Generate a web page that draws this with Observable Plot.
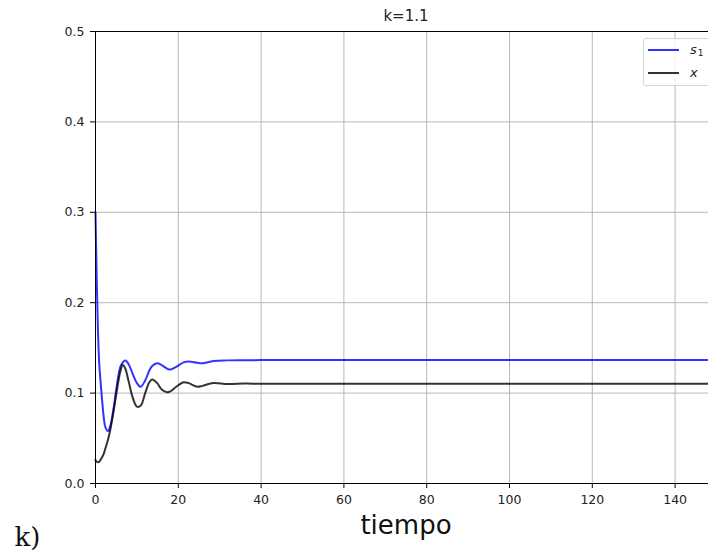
<!DOCTYPE html>
<html>
<head>
<meta charset="utf-8">
<script src="https://cdn.jsdelivr.net/npm/d3@7"></script>
<script src="https://cdn.jsdelivr.net/npm/@observablehq/plot@0.6"></script>
<style>
  html, body { margin: 0; padding: 0; background: #fff; overflow: hidden; }
  #wrap { position: relative; width: 708px; height: 557px; overflow: hidden; }
  #wrap svg { max-width: none; }
  .legend {
    position: absolute; left: 643px; top: 38px; width: 80px; height: 46px;
    border: 1px solid #d4d4d4; border-radius: 3px; background: rgba(255,255,255,0.8);
    font-family: "DejaVu Sans", sans-serif; font-size: 13px; color: #222;
  }
  .legend .sw { position: absolute; left: 4px; width: 31px; height: 2px; opacity: 0.8; }
  .legend .lab { position: absolute; left: 46px; font-style: italic; line-height: 1; }
  .legend sub { font-style: normal; font-size: 9px; vertical-align: -2px; margin-left: 1px; }
</style>
</head>
<body>
<div id="wrap"></div>
<script>
// Simulated time (horizontal axis)
const tiempo = [0, 0.3, 0.6, 0.9, 1.2, 1.6, 2.0, 2.4, 3.0, 3.6, 4.4, 5.2, 6.0, 6.6, 7.2, 8.0, 9.0, 10.0, 10.9,
  12, 13, 13.7, 14.9, 16, 17.3, 18.1, 19.5, 21.3, 22.5, 24.6, 25.8, 28.5, 31.8, 36, 40, 50, 150];
// Substrate s1
const s1 = [0.300, 0.225, 0.168, 0.133, 0.114, 0.092, 0.073, 0.062, 0.058, 0.064, 0.084, 0.110, 0.129, 0.134, 0.136,
  0.132, 0.121, 0.111, 0.107, 0.114, 0.125, 0.130, 0.133, 0.131, 0.127, 0.126, 0.129, 0.134, 0.135, 0.1335, 0.133,
  0.1355, 0.1362, 0.1364, 0.1365, 0.1365, 0.1365];
// Biomass x
const xBio = [0.026, 0.024, 0.0235, 0.024, 0.026, 0.029, 0.033, 0.039, 0.048, 0.060, 0.081, 0.104, 0.124, 0.131, 0.127,
  0.113, 0.095, 0.085, 0.086, 0.100, 0.112, 0.115, 0.111, 0.104, 0.101, 0.102, 0.107, 0.112, 0.111, 0.107, 0.108,
  0.1112, 0.1100, 0.1105, 0.1104, 0.1104, 0.1104];

const xTicks = [0, 20, 40, 60, 80, 100, 120, 140];
const yTicks = [0.0, 0.1, 0.2, 0.3, 0.4, 0.5];
const seriesNames = ["s1", "x"];
const seriesColors = ["#0000ff", "#000000"];
const titulo = "k=1.1";
const etiquetaX = "tiempo";
const panel = "k)";

const rows = tiempo.flatMap((t, i) => [
  {t, v: s1[i], serie: "s1"},
  {t, v: xBio[i], serie: "x"}
]);

const chart = Plot.plot({
  width: 716,
  height: 557,
  marginLeft: 95,
  marginRight: 0,
  marginTop: 31,
  marginBottom: 74,
  style: {fontFamily: "DejaVu Sans, sans-serif", fontSize: "12.5px", color: "#222", background: "#fff"},
  x: {domain: [0, 150]},
  y: {domain: [0, 0.5]},
  color: {domain: seriesNames, range: seriesColors},
  marks: [
    Plot.gridX(xTicks, {stroke: "#b0b0b0", strokeOpacity: 1, strokeWidth: 0.9}),
    Plot.gridY(yTicks, {stroke: "#b0b0b0", strokeOpacity: 1, strokeWidth: 0.9}),
    Plot.line(rows, {x: "t", y: "v", z: "serie", stroke: "serie", strokeWidth: 2, strokeOpacity: 0.8, curve: "catmull-rom"}),
    Plot.frame({stroke: "#000", strokeWidth: 1}),
    Plot.axisX(xTicks, {tickSize: 5, tickPadding: 7, label: null, stroke: "#000", fontSize: 12.5}),
    Plot.axisY(yTicks, {tickSize: 5, tickPadding: 6, label: null, tickFormat: d3.format(".1f"), stroke: "#000", fontSize: 12.5}),
    Plot.text([titulo], {frameAnchor: "top", lineAnchor: "middle", dy: -15, fontSize: 15, fill: "#222"}),
    Plot.text([etiquetaX], {frameAnchor: "bottom", lineAnchor: "middle", dy: 42, fontSize: 26, fill: "#111"}),
    Plot.text([panel], {frameAnchor: "bottom-left", textAnchor: "start", lineAnchor: "middle", dx: -81, dy: 54,
      fontSize: 26, fontFamily: "DejaVu Serif, serif", fill: "#111"})
  ]
});

const wrap = document.getElementById("wrap");
wrap.appendChild(chart);

// legend box
const legend = document.createElement("div");
legend.className = "legend";
const entries = [
  {html: 's<sub>1</sub>', color: seriesColors[0], y: 10, ty: 4},
  {html: 'x', color: seriesColors[1], y: 33, ty: 27}
];
for (const e of entries) {
  const sw = document.createElement("div");
  sw.className = "sw";
  sw.style.top = e.y + "px";
  sw.style.background = e.color;
  legend.appendChild(sw);
  const lab = document.createElement("div");
  lab.className = "lab";
  lab.style.top = e.ty + "px";
  lab.innerHTML = e.html;
  legend.appendChild(lab);
}
wrap.appendChild(legend);
</script>
</body>
</html>
